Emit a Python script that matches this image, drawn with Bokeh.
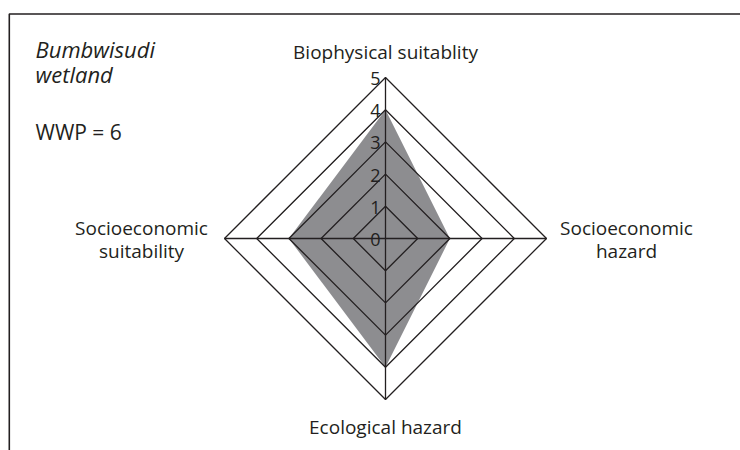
from bokeh.plotting import figure
from bokeh.models import Range1d
from bokeh.core.properties import value
from bokeh.embed import file_html
from bokeh.resources import INLINE

# ---- data ----
categories = ["Biophysical suitablity", "Socioeconomic\nhazard", "Ecological hazard", "Socioeconomic\nsuitability"]
scores = [4, 2, 4, 3]          # clockwise from top
levels = [1, 2, 3, 4, 5]
tick_labels = ["0", "1", "2", "3", "4", "5"]
title_lines = ["Bumbwisudi", "wetland"]
wwp_text = "WWP = 6"

# ---- layout helpers (canvas pixel -> data units) ----
W, H = 740, 450
CX, CY = 385, 238             # centre in canvas pixels
U = 32.2                      # pixels per score unit

def px(x):
    return (x - CX) / U

def py(y):
    return (CY - y) / U

FONT = value("Open Sans")
INK = "#231f20"

p = figure(width=W, height=H, output_backend="svg", toolbar_location=None,
           min_border=0, outline_line_color=None,
           x_range=Range1d(px(0), px(W)), y_range=Range1d(py(H), py(0)))
p.axis.visible = False
p.grid.visible = False
p.background_fill_color = "white"
p.border_fill_color = "white"

# directions: top, right, bottom, left
dirs = [(0, 1), (1, 0), (0, -1), (-1, 0)]

# data polygon
xs = [d[0] * s for d, s in zip(dirs, scores)]
ys = [d[1] * s for d, s in zip(dirs, scores)]
p.patch(xs, ys, fill_color="#8d8d90", line_color=None)

# rings
for k in levels:
    p.patch([d[0] * k for d in dirs], [d[1] * k for d in dirs],
            fill_color=None, line_color=INK, line_width=1.3)

# spokes
mx = max(levels)
p.segment(x0=[0, -mx], y0=[-mx, 0], x1=[0, mx], y1=[mx, 0], line_color=INK, line_width=1.3)

# tick labels on top spoke
p.text(x=[0] * len(tick_labels), y=list(range(len(tick_labels))), text=tick_labels,
       text_font=FONT, text_font_size="18px", text_color=INK,
       text_align="right", text_baseline="middle", x_offset=-5, y_offset=1)

# category labels
ends_x = [d[0] * mx for d in dirs]
ends_y = [d[1] * mx for d in dirs]
offx = [0, 80, 0, -83]
offy = [-26, 1, 27, 1]
bases = ["alphabetic", "middle", "alphabetic", "middle"]
for i in range(4):
    p.text(x=[ends_x[i]], y=[ends_y[i]], text=[categories[i]],
           text_font=FONT, text_font_size="19px", text_color=INK,
           text_align="center", text_baseline=bases[i],
           x_offset=offx[i], y_offset=offy[i], text_line_height=0.88)

# titles
p.text(x=[px(35)], y=[py(48)], text=[title_lines[0]], text_font=FONT,
       text_font_size="22px", text_font_style="italic", text_color=INK,
       text_baseline="alphabetic")
p.text(x=[px(35)], y=[py(73)], text=[title_lines[1]], text_font=FONT,
       text_font_size="22px", text_font_style="italic", text_color=INK,
       text_baseline="alphabetic")
p.text(x=[px(35)], y=[py(131)], text=[wwp_text], text_font=FONT,
       text_font_size="21px", text_color=INK, text_baseline="alphabetic")

# frame (top + left border)
p.line([px(W + 5), px(8.8), px(8.8)], [py(13.5), py(13.5), py(H + 5)],
       line_color=INK, line_width=1.6)

open("out.html", "w").write(file_html(p, INLINE))
